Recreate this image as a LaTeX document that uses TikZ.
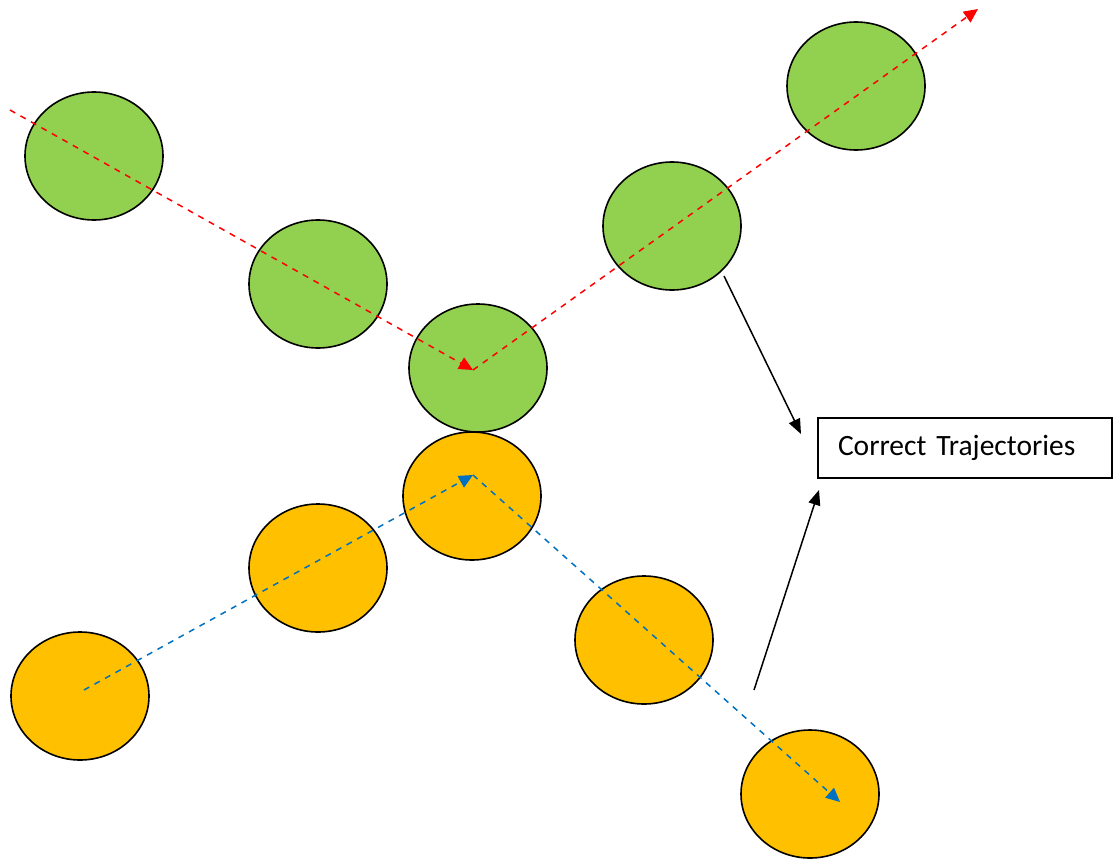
\documentclass[tikz,border=0pt]{standalone}
\usepackage{fontspec}
\setmainfont{Carlito}
\usetikzlibrary{shapes.geometric,arrows.meta}
\definecolor{leaf}{RGB}{146,208,80}
\definecolor{amber}{RGB}{255,192,0}
\definecolor{pathred}{RGB}{255,0,0}
\definecolor{pathblue}{RGB}{0,112,192}
\begin{document}
\begin{tikzpicture}[x=1pt,y=-1pt,
  ball/.style={ellipse,draw=black,line width=1.6pt,minimum width=138pt,minimum height=128pt,inner sep=0pt},
  greenball/.style={ball,fill=leaf},
  orangeball/.style={ball,fill=amber},
  traj/.style={dashed,dash pattern=on 6pt off 6pt,line width=1.5pt,-{Triangle[length=14pt,width=13pt]}},
  pointer/.style={line width=1.5pt,-{Triangle[length=15pt,width=12pt]}},
  label/.style={draw=black,line width=1.6pt,text width=254pt,align=left,inner xsep=20pt,inner ysep=0pt,minimum height=60pt,font=\fontsize{29.5}{34}\selectfont}
]
\useasboundingbox (0,0) rectangle (1118,859);

% green balls
\node[greenball] (g1) at (94,156) {};
\node[greenball] (g2) at (318,284) {};
\node[greenball] (g3) at (478,368) {};
\node[greenball] (g4) at (672,226) {};
\node[greenball] (g5) at (856,86) {};

% orange balls
\node[orangeball] (o1) at (80,696) {};
\node[orangeball] (o2) at (318,568) {};
\node[orangeball] (o3) at (472,496) {};
\node[orangeball] (o4) at (644,640) {};
\node[orangeball] (o5) at (810,794) {};

% label box
\node[label] (lbl) at (965,448) {Correct Trajectories};

% trajectory way points
\coordinate (rs) at (10,110);
\coordinate (rb) at (473,370);
\coordinate (re) at (978,9);
\coordinate (bs) at (84,690);
\coordinate (bb) at (473,475);
\coordinate (be) at (840,802);

% red trajectory
\draw[traj,pathred] (rs) -- (rb);
\draw[traj,pathred] (rb) -- (re);

% blue trajectory
\draw[traj,pathblue] (bs) -- (bb);
\draw[traj,pathblue] (bb) -- (be);

% pointers to the label
\coordinate (p1s) at (724,276);
\coordinate (p1e) at (801,434);
\coordinate (p2s) at (754,690);
\coordinate (p2e) at (819,490);
\draw[pointer] (p1s) -- (p1e);
\draw[pointer] (p2s) -- (p2e);
\end{tikzpicture}
\end{document}
